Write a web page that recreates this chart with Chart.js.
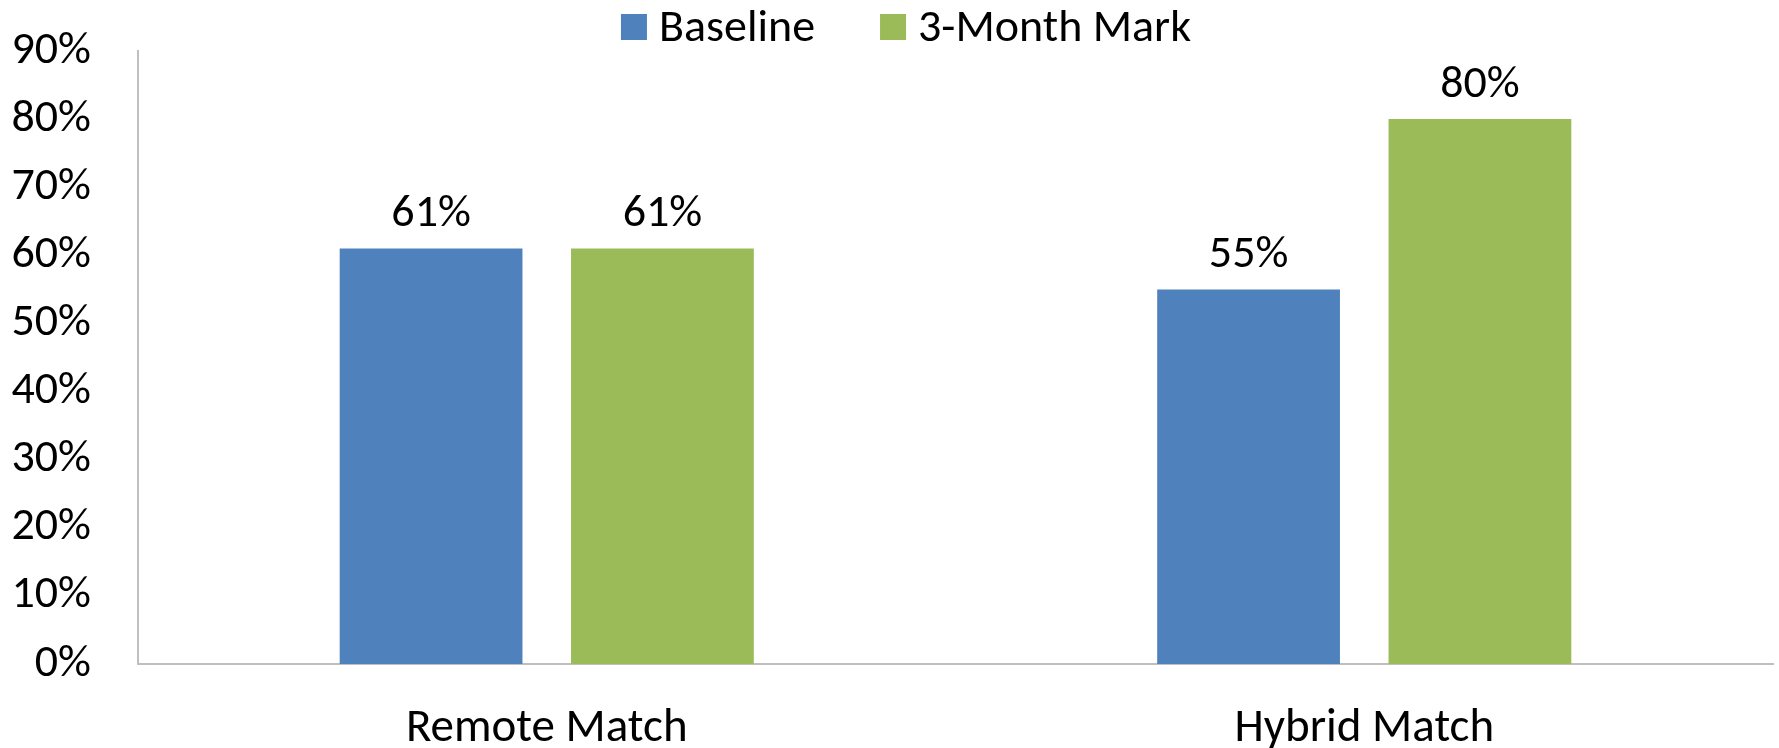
<!DOCTYPE html>
<html>
<head>
<meta charset="utf-8">
<script src="https://cdn.jsdelivr.net/npm/chart.js@4.4.1/dist/chart.umd.min.js"></script>
<style>
  html, body { margin: 0; padding: 0; background: #fff; }
  #wrap { width: 1779px; height: 748px; }
</style>
</head>
<body>
<div id="wrap"><canvas id="barChart" width="1779" height="748"></canvas></div>
<script>
const categories = ['Remote Match', 'Hybrid Match'];
const seriesNames = ['Baseline', '3-Month Mark'];
const baselineValues = [61, 55];
const threeMonthValues = [61, 80];
const yTicks = [0, 10, 20, 30, 40, 50, 60, 70, 80, 90];
const seriesColors = ['#4F81BD', '#9BBB59'];

const FONT = 'Carlito, Calibri, Lato, sans-serif';

// value labels above each bar
const barLabels = {
    id: 'barLabels',
    afterDatasetsDraw(chart) {
        const ctx = chart.ctx;
        ctx.save();
        ctx.font = '46px ' + FONT;
        ctx.fillStyle = '#000';
        ctx.textAlign = 'center';
        ctx.textBaseline = 'middle';
        chart.data.datasets.forEach((ds, i) => {
            chart.getDatasetMeta(i).data.forEach((bar, j) => {
                ctx.fillText(ds.data[j] + '%', bar.x, bar.y - 34);
            });
        });
        ctx.restore();
    }
};

// legend drawn like the Excel one (small square, tight gap)
const topLegend = {
    id: 'topLegend',
    afterDraw(chart) {
        const ctx = chart.ctx;
        const box = 26, gap = 12, itemGap = 65, cy = 27;
        ctx.save();
        ctx.font = '46px ' + FONT;
        ctx.textBaseline = 'middle';
        const items = chart.data.datasets.map(ds => ({
            text: ds.label, color: ds.backgroundColor, w: ctx.measureText(ds.label).width
        }));
        let total = 0;
        items.forEach((it, i) => { total += box + gap + it.w + (i ? itemGap : 0); });
        let x = 906 - total / 2;
        items.forEach(it => {
            ctx.fillStyle = it.color;
            ctx.fillRect(x, cy - box / 2, box, box);
            ctx.fillStyle = '#000';
            ctx.fillText(it.text, x + box + gap, cy + 2);
            x += box + gap + it.w + itemGap;
        });
        ctx.restore();
    }
};

const ctx = document.getElementById('barChart').getContext('2d');
const chart = new Chart(ctx, {
    type: 'bar',
    data: {
        labels: categories,
        datasets: [
            { label: seriesNames[0], data: baselineValues, backgroundColor: seriesColors[0] },
            { label: seriesNames[1], data: threeMonthValues, backgroundColor: seriesColors[1] }
        ]
    },
    options: {
        responsive: false,
        animation: false,
        devicePixelRatio: 1,
        categoryPercentage: 0.566,
        barPercentage: 0.79,
        layout: { padding: { top: 51, right: 6, bottom: 0, left: 0 } },
        plugins: {
            legend: { display: false },
            tooltip: { enabled: false }
        },
        scales: {
            x: {
                grid: { display: false, drawTicks: false },
                border: { display: true, color: '#BFBFBF', width: 2 },
                ticks: { color: '#000', font: { family: FONT, size: 47 }, padding: 37 },
                afterFit(scale) {
                    scale.height = 84;
                    scale.paddingLeft = 0;
                    scale.paddingRight = 0;
                }
            },
            y: {
                min: 0,
                max: 90,
                afterBuildTicks(scale) { scale.ticks = yTicks.map(v => ({ value: v })); },
                grid: { display: false, drawTicks: false },
                border: { display: true, color: '#BFBFBF', width: 2 },
                ticks: {
                    color: '#000',
                    font: { family: FONT, size: 46 },
                    padding: 47,
                    callback: v => v + '%'
                },
                afterFit(scale) {
                    scale.width = 138;
                    scale.paddingTop = 0;
                    scale.paddingBottom = 0;
                }
            }
        }
    },
    plugins: [barLabels, topLegend]
});
</script>
</body>
</html>
